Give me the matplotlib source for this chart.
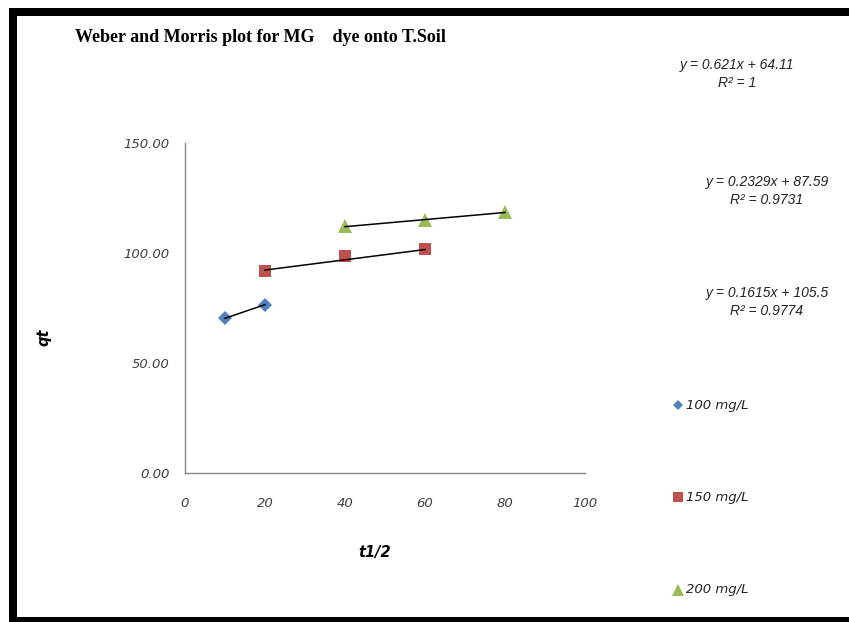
import numpy as np
import matplotlib
matplotlib.use("Agg")
import matplotlib.pyplot as plt
from matplotlib.patches import Rectangle

# series: sqrt(t) vs qt for three dye concentrations
labels = ["100 mg/L", "150 mg/L", "200 mg/L"]
x_100 = [10, 20]
q_100 = [70.32, 76.53]
x_150 = [20, 40, 60]
q_150 = [92.0, 98.5, 101.6]
x_200 = [40, 60, 80]
q_200 = [112.1, 115.0, 118.6]

# linear trendlines (slope, intercept, R^2)
slopes = [0.621, 0.2329, 0.1615]
intercepts = [64.11, 87.59, 105.5]
r2 = ["1", "0.9731", "0.9774"]

colors = ["#4F81BD", "#C0504D", "#9BBB59"]
markers = ["D", "s", "^"]
msizes = [7, 9, 10.5]

W, H = 849, 622
fig = plt.figure(figsize=(W / 100, H / 100), dpi=100)

def px(x0, y0, x1, y1):
    # pixel box (top-left origin) -> figure fraction rect
    return [x0 / W, 1 - y1 / H, (x1 - x0) / W, (y1 - y0) / H]

ax = fig.add_axes(px(185, 143, 585, 473))

xs = [x_100, x_150, x_200]
qs = [q_100, q_150, q_200]
for xv, qv, c, m, ms, k, b in zip(xs, qs, colors, markers, msizes, slopes, intercepts):
    ax.plot(xv, qv, linestyle="none", marker=m, color=c, markersize=ms,
            markeredgewidth=0, zorder=2)
    xl = np.array([min(xv), max(xv)])
    ax.plot(xl, k * xl + b, color="black", lw=1.1, zorder=3)

ax.set_xlim(0, 100)
ax.set_ylim(0, 150)
ax.set_xticks(np.arange(0, 101, 20))
ax.set_yticks([0, 50, 100, 150])
ax.set_yticklabels(["%.2f" % v for v in [0, 50, 100, 150]])
for s in ["top", "right"]:
    ax.spines[s].set_visible(False)
for s in ["left", "bottom"]:
    ax.spines[s].set_color("#868686")
    ax.spines[s].set_linewidth(1.0)
ax.tick_params(length=0, labelsize=9.5, colors="#404040")
ax.tick_params(axis="y", pad=11)
ax.tick_params(axis="x", pad=17)
for t in ax.get_xticklabels() + ax.get_yticklabels():
    t.set_fontstyle("italic")

# labels and title placed in pixel terms
def put(x, y, s, **kw):
    fig.text(x / W, 1 - y / H, s, **kw)

put(75, 38, "Weber and Morris plot for MG    dye onto T.Soil",
    family="Liberation Serif", weight="bold", fontsize=13,
    ha="left", va="center")
put(44, 337, "qt", rotation=90, fontsize=10.5, weight="bold", style="italic",
    ha="center", va="center")
put(375, 553, "t1/2", fontsize=10.5, weight="bold", style="italic",
    ha="center", va="center")

eq_pos = [(737, 65), (767, 182), (767, 293)]
for (ex, ey), k, b, r in zip(eq_pos, slopes, intercepts, r2):
    put(ex, ey, "y = %sx + %s" % (k, b), family="Liberation Sans",
        style="italic", fontsize=10, ha="center", va="center", color="#222222")
    put(ex, ey + 18, "R² = %s" % r, family="Liberation Sans",
        style="italic", fontsize=10, ha="center", va="center", color="#222222")

# legend entries stacked down the right side
leg_y = [405, 497, 590]
for lab, c, m, ms, ly in zip(labels, colors, markers, msizes, leg_y):
    fig.lines.append(plt.Line2D([678 / W], [1 - ly / H], transform=fig.transFigure,
                                marker=m, color=c, markersize=ms - 1.5,
                                markeredgewidth=0, linestyle="none"))
    put(686, ly, lab, style="italic", fontsize=9.5, ha="left", va="center",
        color="#222222")

# black frame: top, left and bottom bars
for box in [(9, 8, 849, 16), (9, 8, 17, 622), (9, 617, 849, 622)]:
    fig.add_artist(Rectangle((box[0] / W, 1 - box[3] / H),
                             (box[2] - box[0]) / W, (box[3] - box[1]) / H,
                             transform=fig.transFigure, color="black", lw=0))

fig.savefig("out.png", dpi=100)
